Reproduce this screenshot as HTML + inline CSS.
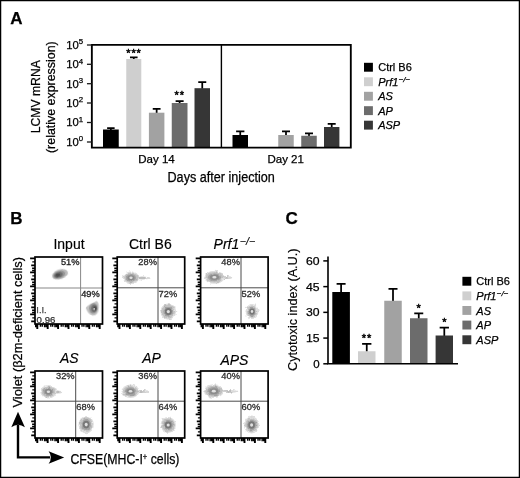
<!DOCTYPE html>
<html><head><meta charset="utf-8"><title>Figure</title>
<style>html,body{margin:0;padding:0;background:#fff}svg{display:block}</style></head>
<body>
<svg width="520" height="478" viewBox="0 0 520 478" font-family="Liberation Sans, Arial, Helvetica, sans-serif">
<defs>
<filter id="b1" x="-50%" y="-50%" width="200%" height="200%"><feGaussianBlur stdDeviation="0.9"/></filter>
<filter id="b2" x="-50%" y="-50%" width="200%" height="200%"><feGaussianBlur stdDeviation="0.5"/></filter>
<filter id="rg0" x="-50%" y="-50%" width="200%" height="200%"><feTurbulence type="fractalNoise" baseFrequency="0.33" numOctaves="2" seed="3" result="n"/><feDisplacementMap in="SourceGraphic" in2="n" scale="3.4" xChannelSelector="R" yChannelSelector="G"/><feGaussianBlur stdDeviation="0.4"/></filter>
<filter id="rg1" x="-50%" y="-50%" width="200%" height="200%"><feTurbulence type="fractalNoise" baseFrequency="0.33" numOctaves="2" seed="11" result="n"/><feDisplacementMap in="SourceGraphic" in2="n" scale="3.4" xChannelSelector="R" yChannelSelector="G"/><feGaussianBlur stdDeviation="0.4"/></filter>
<filter id="rg2" x="-50%" y="-50%" width="200%" height="200%"><feTurbulence type="fractalNoise" baseFrequency="0.33" numOctaves="2" seed="27" result="n"/><feDisplacementMap in="SourceGraphic" in2="n" scale="3.4" xChannelSelector="R" yChannelSelector="G"/><feGaussianBlur stdDeviation="0.4"/></filter>
</defs>
<rect x="0" y="0" width="520" height="478" fill="#fff"/>
<rect x="0.6" y="0.6" width="518.8" height="476.8" fill="none" stroke="#000" stroke-width="1.3"/>
<text x="10.3" y="24.3" font-size="17" text-anchor="start" fill="#000" stroke="#000" stroke-width="0.25" font-weight="bold" >A</text>
<text x="10.3" y="223.8" font-size="17" text-anchor="start" fill="#000" stroke="#000" stroke-width="0.25" font-weight="bold" >B</text>
<text x="285.5" y="223.8" font-size="17" text-anchor="start" fill="#000" stroke="#000" stroke-width="0.25" font-weight="bold" >C</text>
<path d="M110.875 130.0V128M107.125 128H114.625" stroke="#000" stroke-width="1.75" fill="none"/>
<rect x="103" y="129.5" width="15.75" height="17.80000000000001" fill="#000000"/>
<path d="M133.775 59.5V57.3M129.975 57.3H137.57500000000002" stroke="#000" stroke-width="1.75" fill="none"/>
<rect x="126.25" y="59.0" width="15.050000000000011" height="88.30000000000001" fill="#cfcfcf"/>
<path d="M156.65 113.2V108.75M152.75 108.75H160.55" stroke="#000" stroke-width="1.75" fill="none"/>
<rect x="148.9" y="112.7" width="15.5" height="34.60000000000001" fill="#a2a2a2"/>
<path d="M179.625 103.5V101M175.625 101H183.625" stroke="#000" stroke-width="1.75" fill="none"/>
<rect x="171.75" y="103" width="15.75" height="44.30000000000001" fill="#6c6c6c"/>
<path d="M202.25 88.7V82M198.25 82H206.25" stroke="#000" stroke-width="1.75" fill="none"/>
<rect x="194.5" y="88.2" width="15.5" height="59.10000000000001" fill="#363636"/>
<path d="M240.25 135.5V131.25M236.1 131.25H244.4" stroke="#000" stroke-width="1.75" fill="none"/>
<rect x="232.5" y="135" width="15.5" height="12.300000000000011" fill="#000000"/>
<path d="M286.0 135.5V131.25M282.0 131.25H290.0" stroke="#000" stroke-width="1.75" fill="none"/>
<rect x="278.25" y="135" width="15.5" height="12.300000000000011" fill="#a2a2a2"/>
<path d="M309.0 136.25V133.25M305.0 133.25H313.0" stroke="#000" stroke-width="1.75" fill="none"/>
<rect x="301.25" y="135.75" width="15.5" height="11.550000000000011" fill="#6c6c6c"/>
<path d="M331.7 127.5V123.75M327.7 123.75H335.7" stroke="#000" stroke-width="1.75" fill="none"/>
<rect x="324" y="127" width="15.399999999999977" height="20.30000000000001" fill="#363636"/>
<path d="M91.85 44.85H350.8V147.6H91.85Z" fill="none" stroke="#000" stroke-width="1.85"/>
<path d="M221.4 44.85V147.6" stroke="#000" stroke-width="1.4"/>
<path d="M86.94999999999999 45H91.85" stroke="#1a1a1a" stroke-width="1.3"/>
<text x="66.2" y="48.9" font-size="10.8" text-anchor="start" fill="#000" stroke="#000" stroke-width="0.25" textLength="16.9" lengthAdjust="spacingAndGlyphs" >10<tspan font-size="7.5" dy="-4.5">5</tspan></text>
<path d="M86.94999999999999 64.3H91.85" stroke="#1a1a1a" stroke-width="1.3"/>
<text x="66.2" y="68.2" font-size="10.8" text-anchor="start" fill="#000" stroke="#000" stroke-width="0.25" textLength="16.9" lengthAdjust="spacingAndGlyphs" >10<tspan font-size="7.5" dy="-4.5">4</tspan></text>
<path d="M86.94999999999999 83.7H91.85" stroke="#1a1a1a" stroke-width="1.3"/>
<text x="66.2" y="87.60000000000001" font-size="10.8" text-anchor="start" fill="#000" stroke="#000" stroke-width="0.25" textLength="16.9" lengthAdjust="spacingAndGlyphs" >10<tspan font-size="7.5" dy="-4.5">3</tspan></text>
<path d="M86.94999999999999 103H91.85" stroke="#1a1a1a" stroke-width="1.3"/>
<text x="66.2" y="106.9" font-size="10.8" text-anchor="start" fill="#000" stroke="#000" stroke-width="0.25" textLength="16.9" lengthAdjust="spacingAndGlyphs" >10<tspan font-size="7.5" dy="-4.5">2</tspan></text>
<path d="M86.94999999999999 122.5H91.85" stroke="#1a1a1a" stroke-width="1.3"/>
<text x="66.2" y="126.4" font-size="10.8" text-anchor="start" fill="#000" stroke="#000" stroke-width="0.25" textLength="16.9" lengthAdjust="spacingAndGlyphs" >10<tspan font-size="7.5" dy="-4.5">1</tspan></text>
<path d="M86.94999999999999 142H91.85" stroke="#1a1a1a" stroke-width="1.3"/>
<text x="66.2" y="145.9" font-size="10.8" text-anchor="start" fill="#000" stroke="#000" stroke-width="0.25" textLength="16.9" lengthAdjust="spacingAndGlyphs" >10<tspan font-size="7.5" dy="-4.5">0</tspan></text>
<text x="134" y="56.6" font-size="11" text-anchor="middle" fill="#000" stroke="#000" stroke-width="0.45" letter-spacing="0.9">***</text>
<text x="179.8" y="98.9" font-size="11" text-anchor="middle" fill="#000" stroke="#000" stroke-width="0.45" letter-spacing="0.9">**</text>
<text x="156.5" y="162.5" font-size="11.5" text-anchor="middle" fill="#000" stroke="#000" stroke-width="0.25" >Day 14</text>
<text x="285.7" y="162.5" font-size="11.5" text-anchor="middle" fill="#000" stroke="#000" stroke-width="0.25" >Day 21</text>
<text x="167.5" y="182" font-size="13.8" text-anchor="start" fill="#000" stroke="#000" stroke-width="0.25" textLength="107.3" lengthAdjust="spacingAndGlyphs" >Days after injection</text>
<text x="40.1" y="133.2" font-size="12.8" text-anchor="start" fill="#000" stroke="#000" stroke-width="0.25" textLength="73" lengthAdjust="spacingAndGlyphs" transform="rotate(-90 40.1 133.2)" >LCMV mRNA</text>
<text x="55.4" y="153" font-size="12.8" text-anchor="start" fill="#000" stroke="#000" stroke-width="0.25" textLength="111.7" lengthAdjust="spacingAndGlyphs" transform="rotate(-90 55.4 153)" >(relative expression)</text>
<rect x="364" y="62.8" width="8.9" height="8.9" fill="#000000"/>
<text x="378.2" y="71.39999999999999" font-size="11" text-anchor="start" fill="#000" stroke="#000" stroke-width="0.25" >Ctrl B6</text>
<rect x="364" y="77.3" width="8.9" height="8.9" fill="#cfcfcf"/>
<text x="378.2" y="85.89999999999999" font-size="11" text-anchor="start" fill="#000" stroke="#000" stroke-width="0.25" font-style="italic" ><tspan font-style="italic">Prf1</tspan><tspan font-style="italic" font-size="8" dy="-3.8" dx="0.3">−/−</tspan></text>
<rect x="364" y="91.8" width="8.9" height="8.9" fill="#a2a2a2"/>
<text x="378.2" y="100.39999999999999" font-size="11" text-anchor="start" fill="#000" stroke="#000" stroke-width="0.25" font-style="italic" >AS</text>
<rect x="364" y="106.2" width="8.9" height="8.9" fill="#6c6c6c"/>
<text x="378.2" y="114.8" font-size="11" text-anchor="start" fill="#000" stroke="#000" stroke-width="0.25" font-style="italic" >AP</text>
<rect x="364" y="120.7" width="8.9" height="8.9" fill="#363636"/>
<text x="378.2" y="129.3" font-size="11" text-anchor="start" fill="#000" stroke="#000" stroke-width="0.25" font-style="italic" >ASP</text>
<path d="M341.1 292.5V283.75M336.6 283.75H345.6" stroke="#000" stroke-width="1.75" fill="none"/>
<rect x="332.3" y="292" width="17.599999999999966" height="71.80000000000001" fill="#000000"/>
<path d="M366.75 351.75V343.75M362.1 343.75H371.4" stroke="#000" stroke-width="1.75" fill="none"/>
<rect x="358" y="351.25" width="17.5" height="12.550000000000011" fill="#cfcfcf"/>
<path d="M393.0 301.25V288.75M388.5 288.75H397.5" stroke="#000" stroke-width="1.75" fill="none"/>
<rect x="384.25" y="300.75" width="17.5" height="63.05000000000001" fill="#a2a2a2"/>
<path d="M418.75 318.75V313.25M414.25 313.25H423.25" stroke="#000" stroke-width="1.75" fill="none"/>
<rect x="410" y="318.25" width="17.5" height="45.55000000000001" fill="#6c6c6c"/>
<path d="M444.3 336.0V327.5M439.65000000000003 327.5H448.95" stroke="#000" stroke-width="1.75" fill="none"/>
<rect x="435.6" y="335.5" width="17.399999999999977" height="28.30000000000001" fill="#363636"/>
<path d="M328 256.5V363.8H458" fill="none" stroke="#000" stroke-width="1.6"/>
<path d="M323.3 363.8H328" stroke="#000" stroke-width="1.5"/>
<text x="319.6" y="367.90000000000003" font-size="11.5" text-anchor="end" fill="#000" stroke="#000" stroke-width="0.25" >0</text>
<path d="M323.3 338.075H328" stroke="#000" stroke-width="1.5"/>
<text x="319.6" y="342.175" font-size="11.5" text-anchor="end" fill="#000" stroke="#000" stroke-width="0.25" textLength="13.6" lengthAdjust="spacingAndGlyphs" >15</text>
<path d="M323.3 312.35H328" stroke="#000" stroke-width="1.5"/>
<text x="319.6" y="316.45000000000005" font-size="11.5" text-anchor="end" fill="#000" stroke="#000" stroke-width="0.25" textLength="13.6" lengthAdjust="spacingAndGlyphs" >30</text>
<path d="M323.3 286.625H328" stroke="#000" stroke-width="1.5"/>
<text x="319.6" y="290.725" font-size="11.5" text-anchor="end" fill="#000" stroke="#000" stroke-width="0.25" textLength="13.6" lengthAdjust="spacingAndGlyphs" >45</text>
<path d="M323.3 260.9H328" stroke="#000" stroke-width="1.5"/>
<text x="319.6" y="265.0" font-size="11.5" text-anchor="end" fill="#000" stroke="#000" stroke-width="0.25" textLength="13.6" lengthAdjust="spacingAndGlyphs" >60</text>
<text x="367" y="342.2" font-size="11" text-anchor="middle" fill="#000" stroke="#000" stroke-width="0.45" letter-spacing="0.9">**</text>
<text x="418.6" y="312.2" font-size="11" text-anchor="middle" fill="#000" stroke="#000" stroke-width="0.45" >*</text>
<text x="444.5" y="326" font-size="11" text-anchor="middle" fill="#000" stroke="#000" stroke-width="0.45" >*</text>
<text x="297" y="371" font-size="12.6" text-anchor="start" fill="#000" stroke="#000" stroke-width="0.15" textLength="122.5" lengthAdjust="spacingAndGlyphs" transform="rotate(-90 297 371)" >Cytotoxic index (A.U.)</text>
<rect x="462.4" y="276.8" width="8.9" height="8.9" fill="#000000"/>
<text x="476.3" y="285.40000000000003" font-size="11" text-anchor="start" fill="#000" stroke="#000" stroke-width="0.25" >Ctrl B6</text>
<rect x="462.4" y="291.4" width="8.9" height="8.9" fill="#cfcfcf"/>
<text x="476.3" y="300.0" font-size="11" text-anchor="start" fill="#000" stroke="#000" stroke-width="0.25" font-style="italic" ><tspan font-style="italic">Prf1</tspan><tspan font-style="italic" font-size="8" dy="-3.8" dx="0.3">−/−</tspan></text>
<rect x="462.4" y="306" width="8.9" height="8.9" fill="#a2a2a2"/>
<text x="476.3" y="314.6" font-size="11" text-anchor="start" fill="#000" stroke="#000" stroke-width="0.25" font-style="italic" >AS</text>
<rect x="462.4" y="320.6" width="8.9" height="8.9" fill="#6c6c6c"/>
<text x="476.3" y="329.20000000000005" font-size="11" text-anchor="start" fill="#000" stroke="#000" stroke-width="0.25" font-style="italic" >AP</text>
<rect x="462.4" y="335.3" width="8.9" height="8.9" fill="#363636"/>
<text x="476.3" y="343.90000000000003" font-size="11" text-anchor="start" fill="#000" stroke="#000" stroke-width="0.25" font-style="italic" >ASP</text>
<path d="M80.6 257V324M35 288H102.5" stroke="#878787" stroke-width="1" fill="none"/>
<g transform="rotate(-18 60 274.4)" filter="url(#b2)">
<ellipse cx="60" cy="274.4" rx="8.2" ry="4.9" fill="#bcbcbc"/>
<ellipse cx="59.2" cy="274.4" rx="6.231999999999999" ry="3.724" fill="#959595"/>
<ellipse cx="58.4" cy="274.4" rx="4.263999999999999" ry="2.6460000000000004" fill="#6e6e6e"/>
<ellipse cx="57.7" cy="274.4" rx="2.3779999999999997" ry="1.568" fill="#4c4c4c"/>
</g>
<g transform="rotate(8 92.6 308.2)" filter="url(#b2)">
<path d="M95.8 300.59999999999997Q98.99999999999999 302.2 98.6 310.2Q98.19999999999999 315.2 93.6 315.5Q88.0 314.2 85.8 308.7Q88.0 305.2 95.8 300.59999999999997Z" fill="#c2c2c2"/>
<ellipse cx="93.39999999999999" cy="308.2" rx="4.255999999999999" ry="5.32" fill="#959595"/>
<ellipse cx="94.19999999999999" cy="308.2" rx="2.912" ry="3.7800000000000002" fill="#6e6e6e"/>
<ellipse cx="94.89999999999999" cy="308.2" rx="1.6239999999999999" ry="2.24" fill="#4c4c4c"/>
<circle cx="94.19999999999999" cy="308.8" r="0.9" fill="#e8e8e8"/>
</g>
<rect x="35" y="257" width="67.5" height="67" fill="none" stroke="#000" stroke-width="1.7"/>
<path d="M37.30 324v4.9M47.70 324v4.9M58.10 324v4.9M68.50 324v4.9M78.90 324v4.9M89.30 324v4.9M99.70 324v4.9" stroke="#000" stroke-width="1.9" fill="none"/>
<path d="M35.69 324v3.3M36.82 324v3.3M40.43 324v2.7M42.26 324v2.7M44.57 324v3.3M46.09 324v3.3M47.22 324v3.3M50.83 324v2.7M52.66 324v2.7M54.97 324v3.3M56.49 324v3.3M57.62 324v3.3M61.23 324v2.7M63.06 324v2.7M65.37 324v3.3M66.89 324v3.3M68.02 324v3.3M71.63 324v2.7M73.46 324v2.7M75.77 324v3.3M77.29 324v3.3M78.42 324v3.3M82.03 324v2.7M83.86 324v2.7M86.17 324v3.3M87.69 324v3.3M88.82 324v3.3M92.43 324v2.7M94.26 324v2.7M96.57 324v3.3M98.09 324v3.3M99.22 324v3.3" stroke="#000" stroke-width="1.4" fill="none"/>
<path d="M35 258.40h-4.9M35 265.40h-3.8M35 272.40h-4.9M35 279.40h-3.8M35 286.40h-4.9M35 293.40h-3.8M35 300.40h-4.9M35 307.40h-3.8M35 314.40h-4.9M35 321.40h-3.8" stroke="#000" stroke-width="1.9" fill="none"/>
<path d="M35 261.90h-2.7M35 268.20h-2.9M35 270.44h-2.9M35 275.90h-2.7M35 282.20h-2.9M35 284.44h-2.9M35 289.90h-2.7M35 296.20h-2.9M35 298.44h-2.9M35 303.90h-2.7M35 310.20h-2.9M35 312.44h-2.9M35 317.90h-2.7" stroke="#000" stroke-width="1.4" fill="none"/>
<text x="79.5" y="265.3" font-size="9" text-anchor="end" fill="#222" stroke="#222" stroke-width="0.3" textLength="18.6" lengthAdjust="spacingAndGlyphs" >51%</text>
<text x="81.19999999999999" y="297" font-size="9" text-anchor="start" fill="#222" stroke="#222" stroke-width="0.3" textLength="18.6" lengthAdjust="spacingAndGlyphs" >49%</text>
<text x="36.3" y="312.7" font-size="9.4" text-anchor="start" fill="#484848" stroke="#484848" stroke-width="0.25" >I.I.</text>
<text x="36.6" y="322.9" font-size="8.8" text-anchor="start" fill="#333" stroke="#333" stroke-width="0.25" textLength="18.8" lengthAdjust="spacingAndGlyphs" >0.96</text>
<path d="M158 257V324M117.2 287.8H184.7" stroke="#4a4a4a" stroke-width="1" fill="none"/>
<g transform="rotate(0 131 277.8)" filter="url(#rg1)">
<ellipse cx="143.3" cy="278.0" rx="7.5" ry="1.5" fill="#d9d9d9"/>
<ellipse cx="141.70000000000002" cy="278.0" rx="4.16" ry="1.2" fill="#bdbdbd"/>
<ellipse cx="131" cy="277.8" rx="8.1" ry="6.3" fill="#dedede"/>
<ellipse cx="131" cy="277.8" rx="6.8" ry="5.0" fill="#c2c2c2"/>
<ellipse cx="131" cy="277.8" rx="5.032" ry="3.7" fill="#a2a2a2"/>
</g>
<g transform="rotate(0 131 277.8)" filter="url(#b2)">
<ellipse cx="131" cy="277.8" rx="3.536" ry="2.6" fill="#8c8c8c"/>
<ellipse cx="131" cy="277.8" rx="1.632" ry="1.2" fill="#e0e0e0"/>
</g>
<g transform="rotate(0 168.3 311.6)" filter="url(#rg2)">
<ellipse cx="168.3" cy="311.6" rx="7.8999999999999995" ry="8.1" fill="#dedede"/>
<ellipse cx="168.3" cy="311.6" rx="6.6" ry="6.8" fill="#c2c2c2"/>
<ellipse cx="168.3" cy="311.6" rx="4.8839999999999995" ry="5.032" fill="#a2a2a2"/>
</g>
<g transform="rotate(0 168.3 311.6)" filter="url(#b2)">
<ellipse cx="168.3" cy="311.6" rx="3.432" ry="3.536" fill="#787878"/>
<ellipse cx="168.3" cy="311.6" rx="1.5839999999999999" ry="1.632" fill="#e0e0e0"/>
</g>
<rect x="117.2" y="257" width="67.49999999999999" height="67" fill="none" stroke="#000" stroke-width="1.7"/>
<path d="M119.50 324v4.9M129.90 324v4.9M140.30 324v4.9M150.70 324v4.9M161.10 324v4.9M171.50 324v4.9M181.90 324v4.9" stroke="#000" stroke-width="1.9" fill="none"/>
<path d="M117.89 324v3.3M119.02 324v3.3M122.63 324v2.7M124.46 324v2.7M126.77 324v3.3M128.29 324v3.3M129.42 324v3.3M133.03 324v2.7M134.86 324v2.7M137.17 324v3.3M138.69 324v3.3M139.82 324v3.3M143.43 324v2.7M145.26 324v2.7M147.57 324v3.3M149.09 324v3.3M150.22 324v3.3M153.83 324v2.7M155.66 324v2.7M157.97 324v3.3M159.49 324v3.3M160.62 324v3.3M164.23 324v2.7M166.06 324v2.7M168.37 324v3.3M169.89 324v3.3M171.02 324v3.3M174.63 324v2.7M176.46 324v2.7M178.77 324v3.3M180.29 324v3.3M181.42 324v3.3" stroke="#000" stroke-width="1.4" fill="none"/>
<path d="M117.2 258.40h-4.9M117.2 265.40h-3.8M117.2 272.40h-4.9M117.2 279.40h-3.8M117.2 286.40h-4.9M117.2 293.40h-3.8M117.2 300.40h-4.9M117.2 307.40h-3.8M117.2 314.40h-4.9M117.2 321.40h-3.8" stroke="#000" stroke-width="1.9" fill="none"/>
<path d="M117.2 261.90h-2.7M117.2 268.20h-2.9M117.2 270.44h-2.9M117.2 275.90h-2.7M117.2 282.20h-2.9M117.2 284.44h-2.9M117.2 289.90h-2.7M117.2 296.20h-2.9M117.2 298.44h-2.9M117.2 303.90h-2.7M117.2 310.20h-2.9M117.2 312.44h-2.9M117.2 317.90h-2.7" stroke="#000" stroke-width="1.4" fill="none"/>
<text x="156.9" y="265.3" font-size="9" text-anchor="end" fill="#2e2e2e" stroke="#2e2e2e" stroke-width="0.3" textLength="18.6" lengthAdjust="spacingAndGlyphs" >28%</text>
<text x="158.6" y="296.8" font-size="9" text-anchor="start" fill="#2e2e2e" stroke="#2e2e2e" stroke-width="0.3" textLength="18.6" lengthAdjust="spacingAndGlyphs" >72%</text>
<path d="M241 257V324M200.6 287.8H268.1" stroke="#4a4a4a" stroke-width="1" fill="none"/>
<g transform="rotate(0 214.4 277.3)" filter="url(#rg2)">
<ellipse cx="226.70000000000002" cy="277.5" rx="5.5" ry="1.5" fill="#d9d9d9"/>
<ellipse cx="225.9" cy="277.5" rx="2.88" ry="1.2" fill="#bdbdbd"/>
<ellipse cx="214.4" cy="277.3" rx="10.100000000000001" ry="6.5" fill="#dedede"/>
<ellipse cx="214.4" cy="277.3" rx="8.8" ry="5.2" fill="#c2c2c2"/>
<ellipse cx="214.4" cy="277.3" rx="6.5120000000000005" ry="3.848" fill="#a2a2a2"/>
</g>
<g transform="rotate(0 214.4 277.3)" filter="url(#b2)">
<ellipse cx="214.4" cy="277.3" rx="4.5760000000000005" ry="2.704" fill="#8c8c8c"/>
<ellipse cx="214.4" cy="277.3" rx="2.112" ry="1.248" fill="#e0e0e0"/>
</g>
<g transform="rotate(0 252 311.6)" filter="url(#rg0)">
<ellipse cx="252" cy="311.6" rx="6.5" ry="7.5" fill="#dedede"/>
<ellipse cx="252" cy="311.6" rx="5.2" ry="6.2" fill="#c2c2c2"/>
<ellipse cx="252" cy="311.6" rx="3.848" ry="4.588" fill="#a2a2a2"/>
</g>
<g transform="rotate(0 252 311.6)" filter="url(#b2)">
<ellipse cx="252" cy="311.6" rx="2.704" ry="3.224" fill="#787878"/>
<ellipse cx="252" cy="311.6" rx="1.248" ry="1.488" fill="#e0e0e0"/>
</g>
<rect x="200.6" y="257" width="67.50000000000003" height="67" fill="none" stroke="#000" stroke-width="1.7"/>
<path d="M202.90 324v4.9M213.30 324v4.9M223.70 324v4.9M234.10 324v4.9M244.50 324v4.9M254.90 324v4.9M265.30 324v4.9" stroke="#000" stroke-width="1.9" fill="none"/>
<path d="M201.29 324v3.3M202.42 324v3.3M206.03 324v2.7M207.86 324v2.7M210.17 324v3.3M211.69 324v3.3M212.82 324v3.3M216.43 324v2.7M218.26 324v2.7M220.57 324v3.3M222.09 324v3.3M223.22 324v3.3M226.83 324v2.7M228.66 324v2.7M230.97 324v3.3M232.49 324v3.3M233.62 324v3.3M237.23 324v2.7M239.06 324v2.7M241.37 324v3.3M242.89 324v3.3M244.02 324v3.3M247.63 324v2.7M249.46 324v2.7M251.77 324v3.3M253.29 324v3.3M254.42 324v3.3M258.03 324v2.7M259.86 324v2.7M262.17 324v3.3M263.69 324v3.3M264.82 324v3.3" stroke="#000" stroke-width="1.4" fill="none"/>
<path d="M200.6 258.40h-4.9M200.6 265.40h-3.8M200.6 272.40h-4.9M200.6 279.40h-3.8M200.6 286.40h-4.9M200.6 293.40h-3.8M200.6 300.40h-4.9M200.6 307.40h-3.8M200.6 314.40h-4.9M200.6 321.40h-3.8" stroke="#000" stroke-width="1.9" fill="none"/>
<path d="M200.6 261.90h-2.7M200.6 268.20h-2.9M200.6 270.44h-2.9M200.6 275.90h-2.7M200.6 282.20h-2.9M200.6 284.44h-2.9M200.6 289.90h-2.7M200.6 296.20h-2.9M200.6 298.44h-2.9M200.6 303.90h-2.7M200.6 310.20h-2.9M200.6 312.44h-2.9M200.6 317.90h-2.7" stroke="#000" stroke-width="1.4" fill="none"/>
<text x="239.9" y="265.3" font-size="9" text-anchor="end" fill="#2e2e2e" stroke="#2e2e2e" stroke-width="0.3" textLength="18.6" lengthAdjust="spacingAndGlyphs" >48%</text>
<text x="241.6" y="296.8" font-size="9" text-anchor="start" fill="#2e2e2e" stroke="#2e2e2e" stroke-width="0.3" textLength="18.6" lengthAdjust="spacingAndGlyphs" >52%</text>
<path d="M75.7 371V438M35 401.2H102.5" stroke="#4a4a4a" stroke-width="1" fill="none"/>
<g transform="rotate(0 48.4 391.8)" filter="url(#rg0)">
<ellipse cx="57.699999999999996" cy="392.0" rx="4.5" ry="1.5" fill="#d9d9d9"/>
<ellipse cx="57.3" cy="392.0" rx="2.24" ry="1.2" fill="#bdbdbd"/>
<ellipse cx="48.4" cy="391.8" rx="8.1" ry="6.7" fill="#dedede"/>
<ellipse cx="48.4" cy="391.8" rx="6.8" ry="5.4" fill="#c2c2c2"/>
<ellipse cx="48.4" cy="391.8" rx="5.032" ry="3.996" fill="#a2a2a2"/>
</g>
<g transform="rotate(0 48.4 391.8)" filter="url(#b2)">
<ellipse cx="48.4" cy="391.8" rx="3.536" ry="2.8080000000000003" fill="#8c8c8c"/>
<ellipse cx="48.4" cy="391.8" rx="1.632" ry="1.296" fill="#e0e0e0"/>
</g>
<g transform="rotate(0 86.2 424.6)" filter="url(#rg1)">
<ellipse cx="86.2" cy="424.6" rx="7.7" ry="8.700000000000001" fill="#dedede"/>
<ellipse cx="86.2" cy="424.6" rx="6.4" ry="7.4" fill="#c2c2c2"/>
<ellipse cx="86.2" cy="424.6" rx="4.736" ry="5.476" fill="#a2a2a2"/>
</g>
<g transform="rotate(0 86.2 424.6)" filter="url(#b2)">
<ellipse cx="86.2" cy="424.6" rx="3.3280000000000003" ry="3.8480000000000003" fill="#787878"/>
<ellipse cx="86.2" cy="424.6" rx="1.536" ry="1.776" fill="#e0e0e0"/>
</g>
<rect x="35" y="371" width="67.5" height="67" fill="none" stroke="#000" stroke-width="1.7"/>
<path d="M37.30 438v4.9M47.70 438v4.9M58.10 438v4.9M68.50 438v4.9M78.90 438v4.9M89.30 438v4.9M99.70 438v4.9" stroke="#000" stroke-width="1.9" fill="none"/>
<path d="M35.69 438v3.3M36.82 438v3.3M40.43 438v2.7M42.26 438v2.7M44.57 438v3.3M46.09 438v3.3M47.22 438v3.3M50.83 438v2.7M52.66 438v2.7M54.97 438v3.3M56.49 438v3.3M57.62 438v3.3M61.23 438v2.7M63.06 438v2.7M65.37 438v3.3M66.89 438v3.3M68.02 438v3.3M71.63 438v2.7M73.46 438v2.7M75.77 438v3.3M77.29 438v3.3M78.42 438v3.3M82.03 438v2.7M83.86 438v2.7M86.17 438v3.3M87.69 438v3.3M88.82 438v3.3M92.43 438v2.7M94.26 438v2.7M96.57 438v3.3M98.09 438v3.3M99.22 438v3.3" stroke="#000" stroke-width="1.4" fill="none"/>
<path d="M35 372.40h-4.9M35 379.40h-3.8M35 386.40h-4.9M35 393.40h-3.8M35 400.40h-4.9M35 407.40h-3.8M35 414.40h-4.9M35 421.40h-3.8M35 428.40h-4.9M35 435.40h-3.8" stroke="#000" stroke-width="1.9" fill="none"/>
<path d="M35 375.90h-2.7M35 382.20h-2.9M35 384.44h-2.9M35 389.90h-2.7M35 396.20h-2.9M35 398.44h-2.9M35 403.90h-2.7M35 410.20h-2.9M35 412.44h-2.9M35 417.90h-2.7M35 424.20h-2.9M35 426.44h-2.9M35 431.90h-2.7" stroke="#000" stroke-width="1.4" fill="none"/>
<text x="74.60000000000001" y="379.3" font-size="9" text-anchor="end" fill="#2e2e2e" stroke="#2e2e2e" stroke-width="0.3" textLength="18.6" lengthAdjust="spacingAndGlyphs" >32%</text>
<text x="76.3" y="410.2" font-size="9" text-anchor="start" fill="#2e2e2e" stroke="#2e2e2e" stroke-width="0.3" textLength="18.6" lengthAdjust="spacingAndGlyphs" >68%</text>
<path d="M158 371V438M117.2 401.2H184.7" stroke="#4a4a4a" stroke-width="1" fill="none"/>
<g transform="rotate(0 130.5 391.3)" filter="url(#rg1)">
<ellipse cx="143.0" cy="391.5" rx="7.0" ry="1.5" fill="#d9d9d9"/>
<ellipse cx="141.6" cy="391.5" rx="3.84" ry="1.2" fill="#bdbdbd"/>
<ellipse cx="130.5" cy="391.3" rx="8.8" ry="6.7" fill="#dedede"/>
<ellipse cx="130.5" cy="391.3" rx="7.5" ry="5.4" fill="#c2c2c2"/>
<ellipse cx="130.5" cy="391.3" rx="5.55" ry="3.996" fill="#a2a2a2"/>
</g>
<g transform="rotate(0 130.5 391.3)" filter="url(#b2)">
<ellipse cx="130.5" cy="391.3" rx="3.9000000000000004" ry="2.8080000000000003" fill="#8c8c8c"/>
<ellipse cx="130.5" cy="391.3" rx="1.7999999999999998" ry="1.296" fill="#e0e0e0"/>
</g>
<g transform="rotate(0 168.2 425)" filter="url(#rg2)">
<ellipse cx="168.2" cy="425" rx="7.7" ry="7.8999999999999995" fill="#dedede"/>
<ellipse cx="168.2" cy="425" rx="6.4" ry="6.6" fill="#c2c2c2"/>
<ellipse cx="168.2" cy="425" rx="4.736" ry="4.8839999999999995" fill="#a2a2a2"/>
</g>
<g transform="rotate(0 168.2 425)" filter="url(#b2)">
<ellipse cx="168.2" cy="425" rx="3.3280000000000003" ry="3.432" fill="#787878"/>
<ellipse cx="168.2" cy="425" rx="1.536" ry="1.5839999999999999" fill="#e0e0e0"/>
</g>
<rect x="117.2" y="371" width="67.49999999999999" height="67" fill="none" stroke="#000" stroke-width="1.7"/>
<path d="M119.50 438v4.9M129.90 438v4.9M140.30 438v4.9M150.70 438v4.9M161.10 438v4.9M171.50 438v4.9M181.90 438v4.9" stroke="#000" stroke-width="1.9" fill="none"/>
<path d="M117.89 438v3.3M119.02 438v3.3M122.63 438v2.7M124.46 438v2.7M126.77 438v3.3M128.29 438v3.3M129.42 438v3.3M133.03 438v2.7M134.86 438v2.7M137.17 438v3.3M138.69 438v3.3M139.82 438v3.3M143.43 438v2.7M145.26 438v2.7M147.57 438v3.3M149.09 438v3.3M150.22 438v3.3M153.83 438v2.7M155.66 438v2.7M157.97 438v3.3M159.49 438v3.3M160.62 438v3.3M164.23 438v2.7M166.06 438v2.7M168.37 438v3.3M169.89 438v3.3M171.02 438v3.3M174.63 438v2.7M176.46 438v2.7M178.77 438v3.3M180.29 438v3.3M181.42 438v3.3" stroke="#000" stroke-width="1.4" fill="none"/>
<path d="M117.2 372.40h-4.9M117.2 379.40h-3.8M117.2 386.40h-4.9M117.2 393.40h-3.8M117.2 400.40h-4.9M117.2 407.40h-3.8M117.2 414.40h-4.9M117.2 421.40h-3.8M117.2 428.40h-4.9M117.2 435.40h-3.8" stroke="#000" stroke-width="1.9" fill="none"/>
<path d="M117.2 375.90h-2.7M117.2 382.20h-2.9M117.2 384.44h-2.9M117.2 389.90h-2.7M117.2 396.20h-2.9M117.2 398.44h-2.9M117.2 403.90h-2.7M117.2 410.20h-2.9M117.2 412.44h-2.9M117.2 417.90h-2.7M117.2 424.20h-2.9M117.2 426.44h-2.9M117.2 431.90h-2.7" stroke="#000" stroke-width="1.4" fill="none"/>
<text x="156.9" y="379.3" font-size="9" text-anchor="end" fill="#2e2e2e" stroke="#2e2e2e" stroke-width="0.3" textLength="18.6" lengthAdjust="spacingAndGlyphs" >36%</text>
<text x="158.6" y="410.2" font-size="9" text-anchor="start" fill="#2e2e2e" stroke="#2e2e2e" stroke-width="0.3" textLength="18.6" lengthAdjust="spacingAndGlyphs" >64%</text>
<path d="M241 371V438M200.6 401.2H268.1" stroke="#4a4a4a" stroke-width="1" fill="none"/>
<g transform="rotate(0 213.8 391.2)" filter="url(#rg2)">
<ellipse cx="228.8" cy="391.4" rx="8.5" ry="1.5" fill="#d9d9d9"/>
<ellipse cx="226.8" cy="391.4" rx="4.8" ry="1.2" fill="#bdbdbd"/>
<ellipse cx="213.8" cy="391.2" rx="9.8" ry="6.8999999999999995" fill="#dedede"/>
<ellipse cx="213.8" cy="391.2" rx="8.5" ry="5.6" fill="#c2c2c2"/>
<ellipse cx="213.8" cy="391.2" rx="6.29" ry="4.144" fill="#a2a2a2"/>
</g>
<g transform="rotate(0 213.8 391.2)" filter="url(#b2)">
<ellipse cx="213.8" cy="391.2" rx="4.42" ry="2.912" fill="#8c8c8c"/>
<ellipse cx="213.8" cy="391.2" rx="2.04" ry="1.3439999999999999" fill="#e0e0e0"/>
</g>
<g transform="rotate(0 251.6 425)" filter="url(#rg0)">
<ellipse cx="251.6" cy="425" rx="7.7" ry="8.5" fill="#dedede"/>
<ellipse cx="251.6" cy="425" rx="6.4" ry="7.2" fill="#c2c2c2"/>
<ellipse cx="251.6" cy="425" rx="4.736" ry="5.328" fill="#a2a2a2"/>
</g>
<g transform="rotate(0 251.6 425)" filter="url(#b2)">
<ellipse cx="251.6" cy="425" rx="3.3280000000000003" ry="3.744" fill="#787878"/>
<ellipse cx="251.6" cy="425" rx="1.536" ry="1.728" fill="#e0e0e0"/>
</g>
<rect x="200.6" y="371" width="67.50000000000003" height="67" fill="none" stroke="#000" stroke-width="1.7"/>
<path d="M202.90 438v4.9M213.30 438v4.9M223.70 438v4.9M234.10 438v4.9M244.50 438v4.9M254.90 438v4.9M265.30 438v4.9" stroke="#000" stroke-width="1.9" fill="none"/>
<path d="M201.29 438v3.3M202.42 438v3.3M206.03 438v2.7M207.86 438v2.7M210.17 438v3.3M211.69 438v3.3M212.82 438v3.3M216.43 438v2.7M218.26 438v2.7M220.57 438v3.3M222.09 438v3.3M223.22 438v3.3M226.83 438v2.7M228.66 438v2.7M230.97 438v3.3M232.49 438v3.3M233.62 438v3.3M237.23 438v2.7M239.06 438v2.7M241.37 438v3.3M242.89 438v3.3M244.02 438v3.3M247.63 438v2.7M249.46 438v2.7M251.77 438v3.3M253.29 438v3.3M254.42 438v3.3M258.03 438v2.7M259.86 438v2.7M262.17 438v3.3M263.69 438v3.3M264.82 438v3.3" stroke="#000" stroke-width="1.4" fill="none"/>
<path d="M200.6 372.40h-4.9M200.6 379.40h-3.8M200.6 386.40h-4.9M200.6 393.40h-3.8M200.6 400.40h-4.9M200.6 407.40h-3.8M200.6 414.40h-4.9M200.6 421.40h-3.8M200.6 428.40h-4.9M200.6 435.40h-3.8" stroke="#000" stroke-width="1.9" fill="none"/>
<path d="M200.6 375.90h-2.7M200.6 382.20h-2.9M200.6 384.44h-2.9M200.6 389.90h-2.7M200.6 396.20h-2.9M200.6 398.44h-2.9M200.6 403.90h-2.7M200.6 410.20h-2.9M200.6 412.44h-2.9M200.6 417.90h-2.7M200.6 424.20h-2.9M200.6 426.44h-2.9M200.6 431.90h-2.7" stroke="#000" stroke-width="1.4" fill="none"/>
<text x="239.9" y="379.3" font-size="9" text-anchor="end" fill="#2e2e2e" stroke="#2e2e2e" stroke-width="0.3" textLength="18.6" lengthAdjust="spacingAndGlyphs" >40%</text>
<text x="241.6" y="410.2" font-size="9" text-anchor="start" fill="#2e2e2e" stroke="#2e2e2e" stroke-width="0.3" textLength="18.6" lengthAdjust="spacingAndGlyphs" >60%</text>
<text x="69" y="248.8" font-size="14" text-anchor="middle" fill="#000" stroke="#000" stroke-width="0.15" >Input</text>
<text x="150.3" y="249.4" font-size="14" text-anchor="middle" fill="#000" stroke="#000" stroke-width="0.15" >Ctrl B6</text>
<text x="213.6" y="249.4" font-size="14" text-anchor="start" fill="#000" stroke="#000" stroke-width="0.15" ><tspan font-style="italic">Prf1</tspan><tspan font-style="italic" font-size="10.8" dy="-4.1" dx="0.5">−/−</tspan></text>
<text x="69.3" y="362.7" font-size="14" text-anchor="middle" fill="#000" stroke="#000" stroke-width="0.15" font-style="italic" >AS</text>
<text x="151.5" y="362.7" font-size="14" text-anchor="middle" fill="#000" stroke="#000" stroke-width="0.15" font-style="italic" >AP</text>
<text x="234.4" y="365" font-size="14" text-anchor="middle" fill="#000" stroke="#000" stroke-width="0.15" font-style="italic" >APS</text>
<text x="21.7" y="407.5" font-size="13" text-anchor="start" fill="#000" stroke="#000" stroke-width="0.25" textLength="150.5" lengthAdjust="spacingAndGlyphs" transform="rotate(-90 21.7 407.5)" >Violet (β2m-deficient cells)</text>
<text x="70.4" y="464.4" font-size="13.9" text-anchor="start" fill="#000" stroke="#000" stroke-width="0.25" textLength="109" lengthAdjust="spacingAndGlyphs" >CFSE(MHC-I<tspan font-size="8.5" dy="-4.8">+</tspan><tspan dy="4.8"> cells)</tspan></text>
<path d="M18 425V457.4H50" fill="none" stroke="#000" stroke-width="2.4"/>
<path d="M18 411.8L24.9 427.2Q18 422.2 11.3 427.2Z" fill="#000"/>
<path d="M64.2 457.4L48.6 451.2Q53.2 457.4 48.6 463.8Z" fill="#000"/>
</svg>
</body></html>
